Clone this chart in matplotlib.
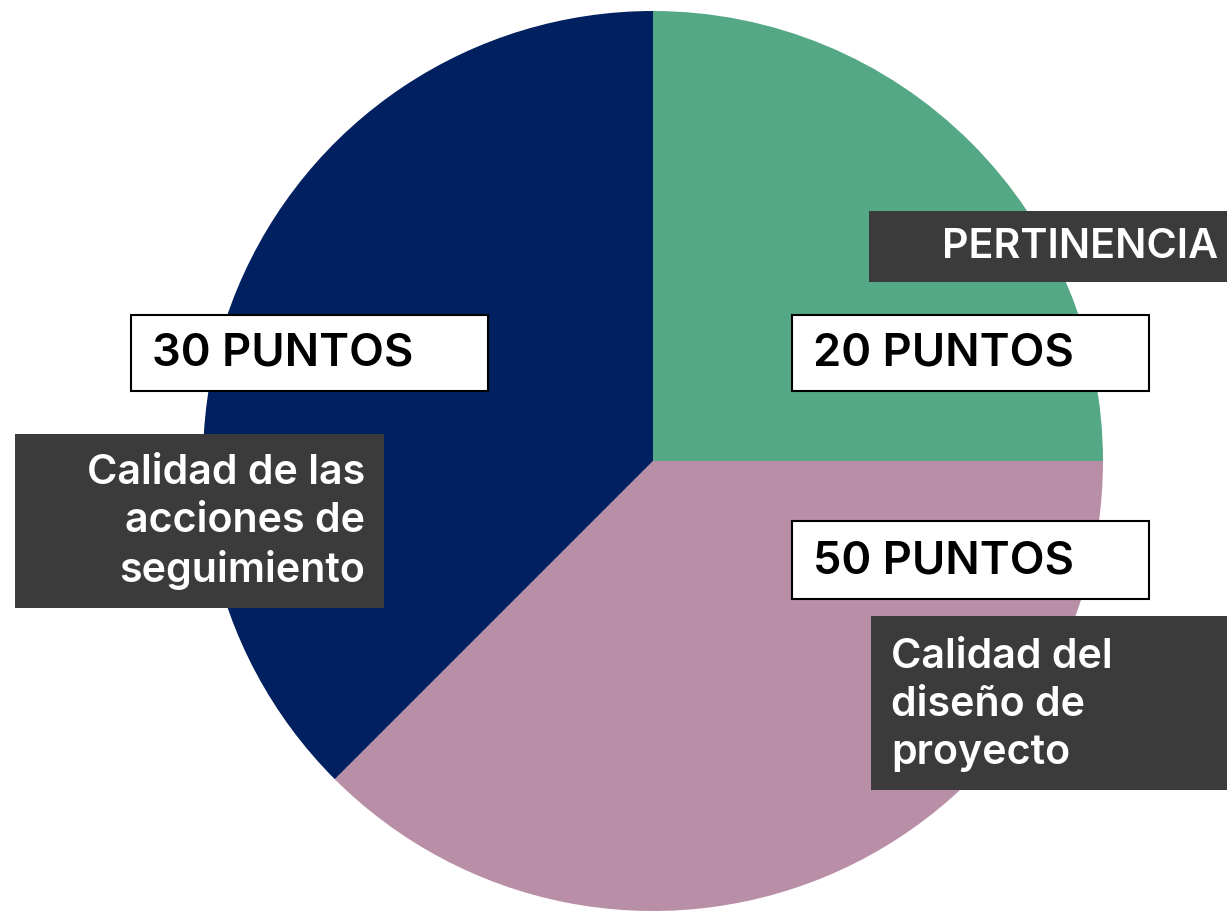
import matplotlib
matplotlib.use("Agg")
import matplotlib.pyplot as plt
from matplotlib.patches import Rectangle

# Data (slice shares as drawn in the picture)
categories = ["PERTINENCIA", "Calidad del\ndiseño de\nproyecto", "Calidad de las\nacciones de\nseguimiento"]
shares = [25, 37.5, 37.5]
points_labels = ["20 PUNTOS", "50 PUNTOS", "30 PUNTOS"]
colors = ["#55A886", "#B98EA7", "#00205F"]

W, H = 1227, 912
fig = plt.figure(figsize=(W / 100, H / 100), dpi=100)
ax = fig.add_axes([0, 0, 1, 1])

ax.pie(shares, colors=colors, startangle=90, counterclock=False,
       center=(653, H - 462), radius=450, frame=True,
       wedgeprops=dict(linewidth=0))
ax.set_xlim(0, W)
ax.set_ylim(0, H)
ax.set_aspect("equal")
ax.axis("off")

FONT = "Inter"
DARK = "#3B3B3B"

def box(x0, y0, x1, y1, fc, ec=None):
    ax.add_patch(Rectangle((x0, H - y1), x1 - x0, y1 - y0, facecolor=fc,
                           edgecolor=ec if ec else fc, linewidth=1.5 if ec else 0,
                           zorder=5, clip_on=False))

# Category boxes (dark)
cat_boxes = [(869, 212, 1235, 283), (871, 617, 1235, 791), (15, 435, 384, 609)]
cat_text = [(1218, 247, "right"), (891, 705, "left"), (365, 522, "right")]
for (x0, y0, x1, y1), (tx, ty, ha), lab in zip(cat_boxes, cat_text, categories):
    box(x0, y0, x1, y1, DARK)
    ax.text(tx, H - ty, lab, ha=ha, va="center", color="white", fontsize=29.7,
            fontfamily=FONT, fontweight="semibold", linespacing=1.32,
            multialignment=ha, zorder=6)

# Points boxes (white, outlined)
pt_boxes = [(792, 316, 1149, 392), (792, 522, 1149, 600), (131, 316, 488, 392)]
pt_text = [(813, 354), (813, 561), (152, 354)]
for (x0, y0, x1, y1), (tx, ty), lab in zip(pt_boxes, pt_text, points_labels):
    box(x0, y0, x1, y1, "white", "black")
    ax.text(tx, H - ty, lab, ha="left", va="center", color="black", fontsize=32.6,
            fontfamily=FONT, fontweight="semibold", zorder=6)

fig.savefig("out.png", dpi=100)
